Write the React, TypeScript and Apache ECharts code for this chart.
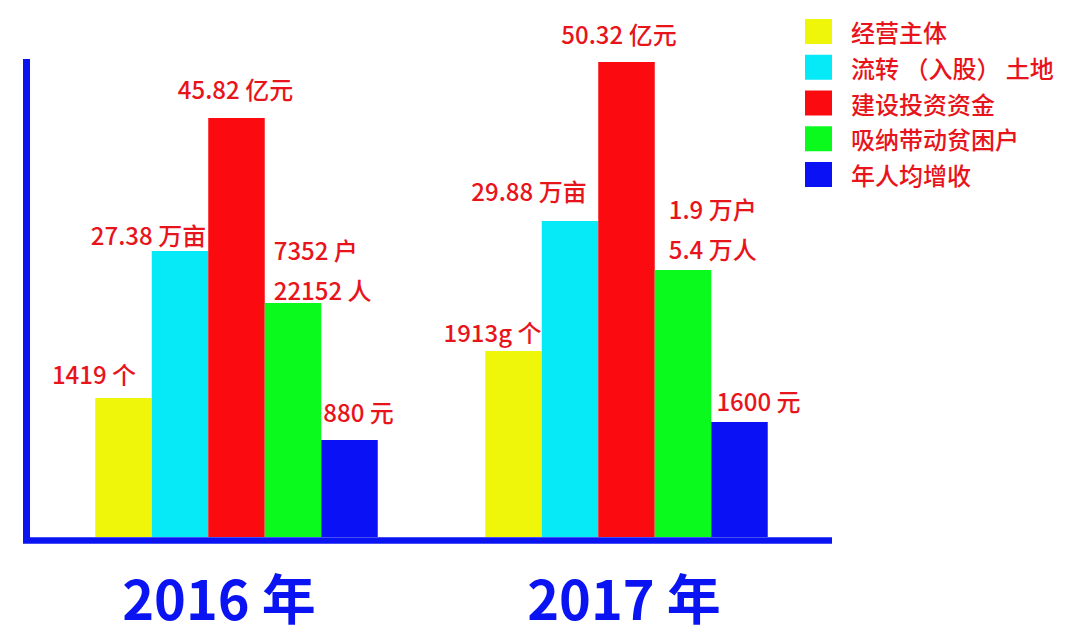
import React, { useEffect, useRef } from "react";
import * as echarts from "echarts";

const categories = ["2016 年", "2017 年"];
const seriesNames = ["经营主体", "流转 （入股） 土地", "建设投资资金", "吸纳带动贫困户", "年人均增收"];
const barHeights2016 = [139, 286, 419, 234, 97];
const barHeights2017 = [186, 316, 475, 267, 115];
const labels2016 = ["1419 个", "27.38 万亩", "45.82 亿元", "7352 户\n22152 人", "880 元"];
const labels2017 = ["1913g 个", "29.88 万亩", "50.32 亿元", "1.9 万户\n5.4 万人", "1600 元"];

// layout only (label offsets relative to bar top)
const barColors = ["#EFF60A", "#06EAF7", "#FB0A10", "#0BFA1E", "#0A12F5"];
const labelLayout2016 = [
  { mode: "c", dx: -29.5, dy: -25 },
  { mode: "c", dx: -31.5, dy: -17 },
  { mode: "c", dx: -1, dy: -30 },
  { mode: "l", dx: 9, dy: -34 },
  { mode: "c", dx: 9, dy: -29 },
];
const labelLayout2017 = [
  { mode: "c", dx: -21, dy: -20 },
  { mode: "c", dx: -41, dy: -31 },
  { mode: "c", dx: -7.5, dy: -29 },
  { mode: "l", dx: 14, dy: -42 },
  { mode: "c", dx: 19, dy: -22 },
];

const FONT = "'Noto Sans CJK SC', 'Noto Sans', sans-serif";
const LABEL_RED = "#E8141C";
const AXIS_BLUE = "#0A14F2";

function makeLabel(text: string, lay: { mode: string; dx: number; dy: number }) {
  return {
    show: true,
    formatter: text,
    position: lay.mode === "c" ? ["50%", 0] : [0, 0],
    align: lay.mode === "c" ? "center" : "left",
    verticalAlign: "middle",
    offset: [lay.dx, lay.dy],
    color: LABEL_RED,
    fontSize: 24,
    fontWeight: 500,
    lineHeight: 40,
    fontFamily: FONT,
  };
}

export default function App() {
  const ref = useRef<HTMLDivElement>(null);
  useEffect(() => {
    document.body.style.margin = "0";
    const chart = echarts.init(ref.current!, null, { renderer: "svg" });
    const series = seriesNames.map((name, i) => ({
      name,
      type: "bar",
      barWidth: 56.5,
      barGap: "0%",
      itemStyle: { color: barColors[i] },
      data: [
        { value: barHeights2016[i], label: makeLabel(labels2016[i], labelLayout2016[i]) },
        { value: barHeights2017[i], label: makeLabel(labels2017[i], labelLayout2017[i]) },
      ],
    }));
    chart.setOption({
      animation: false,
      backgroundColor: "#ffffff",
      grid: { left: 41.5, width: 780, top: 37, bottom: 101 },
      legend: {
        orient: "vertical",
        left: 800,
        top: 14,
        itemWidth: 27,
        itemHeight: 25,
        itemGap: 10.75,
        icon: "rect",
        textStyle: { color: LABEL_RED, fontSize: 24, fontWeight: 500, fontFamily: FONT, padding: [0, 0, 0, 14] },
        data: seriesNames,
      },
      xAxis: {
        type: "category",
        data: categories,
        axisLine: { show: false },
        axisTick: { show: false },
        axisLabel: {
          margin: 32,
          formatter: (v: string) => (v === categories[0] ? `{a|${v}}` : `{b|${v}}`),
          rich: {
            a: { color: AXIS_BLUE, fontSize: 54, fontWeight: "bold", fontFamily: FONT, lineHeight: 54, padding: [0, 35, 0, 0] },
            b: { color: AXIS_BLUE, fontSize: 54, fontWeight: "bold", fontFamily: FONT, lineHeight: 54, padding: [0, 5, 0, 0] },
          },
        },
      },
      yAxis: {
        type: "value",
        min: 0,
        max: 500,
        show: false,
        splitLine: { show: false },
      },
      series,
      graphic: [
        { type: "line", z: 100, shape: { x1: 26.5, y1: 59, x2: 26.5, y2: 543 }, style: { stroke: AXIS_BLUE, lineWidth: 7 } },
        { type: "line", z: 100, shape: { x1: 23, y1: 540.5, x2: 832, y2: 540.5 }, style: { stroke: AXIS_BLUE, lineWidth: 6.5 } },
      ],
    });
    return () => chart.dispose();
  }, []);
  return <div ref={ref} style={{ position: "fixed", left: 0, top: 0, width: 1080, height: 638 }} />;
}
